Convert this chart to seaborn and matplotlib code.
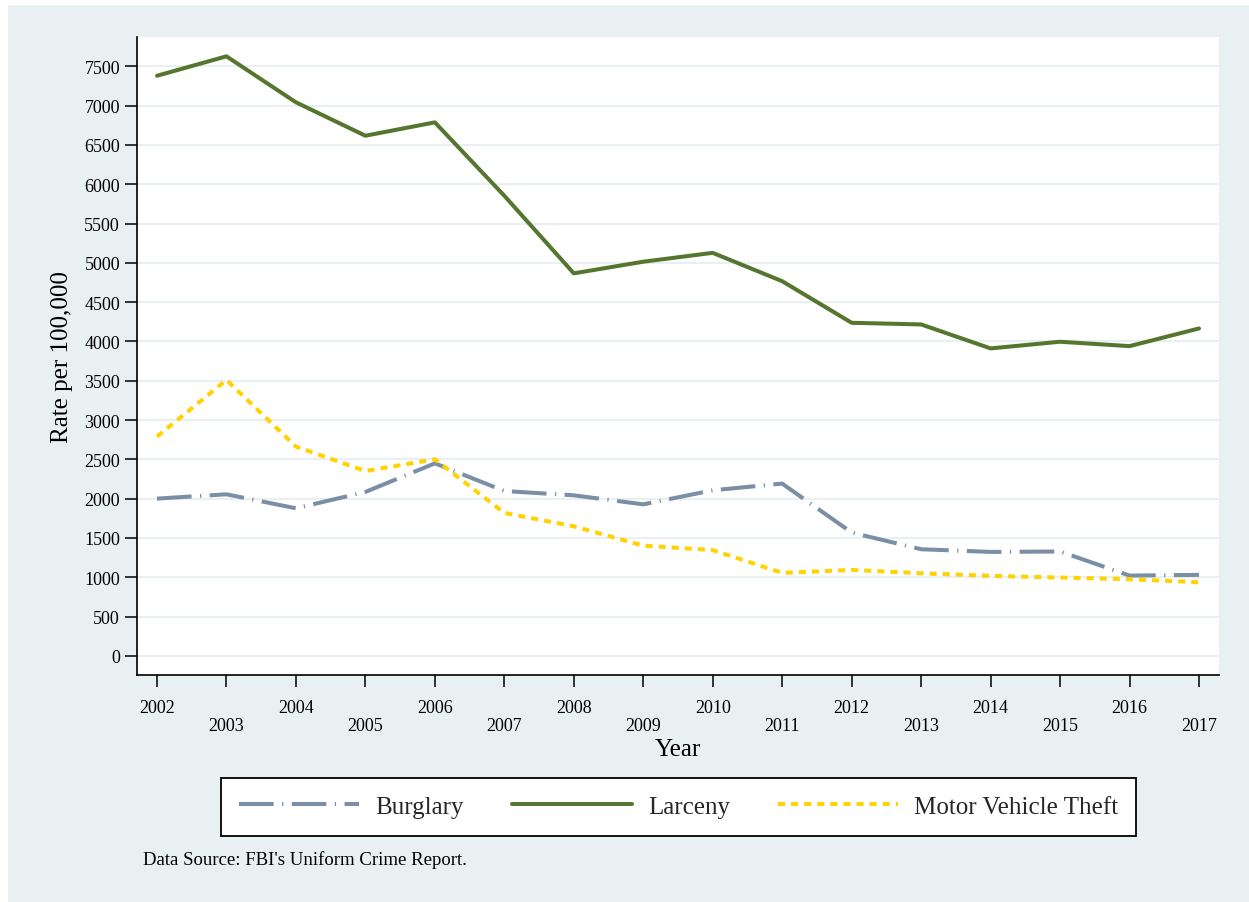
import matplotlib
matplotlib.use("Agg")
import matplotlib.pyplot as plt
from matplotlib.patches import Rectangle
import seaborn as sns
import numpy as np

# ---- data ----
years = [2002, 2003, 2004, 2005, 2006, 2007, 2008, 2009,
         2010, 2011, 2012, 2013, 2014, 2015, 2016, 2017]
burglary = [2000, 2055, 1877, 2085, 2449, 2097, 2042, 1927,
            2106, 2191, 1568, 1356, 1322, 1327, 1021, 1030]
larceny = [7380, 7627, 7042, 6617, 6787, 5853, 4866, 5014,
           5127, 4766, 4237, 4216, 3911, 3996, 3940, 4165]
mvt = [2789, 3510, 2662, 2351, 2500, 1818, 1648, 1402,
       1345, 1055, 1093, 1051, 1017, 996, 975, 936]
series_names = ["Burglary", "Larceny", "Motor Vehicle Theft"]
y_ticks = [0, 500, 1000, 1500, 2000, 2500, 3000, 3500,
           4000, 4500, 5000, 5500, 6000, 6500, 7000, 7500]
x_labels = [str(y) for y in years]
y_title = "Rate per 100,000"
x_title = "Year"
note = "Data Source: FBI's Uniform Crime Report."

# ---- style ----
sns.set_theme(style="white")
plt.rcParams["font.family"] = ["Liberation Serif", "DejaVu Serif"]
plt.rcParams["axes.unicode_minus"] = False

BG = "#e8f0f2"
GRID = "#e8f0f2"
colors = {"Burglary": "#7a8ea6", "Larceny": "#55762e",
          "Motor Vehicle Theft": "#ffd200"}
styles = {"Burglary": (0, (8.6, 2.1, 0.3, 2.1)),
          "Larceny": "-",
          "Motor Vehicle Theft": (0, (1.75, 1.5))}

W, H = 1249, 903
fig = plt.figure(figsize=(W / 100, H / 100), dpi=100)
fig.patch.set_facecolor("white")
fig.add_artist(Rectangle((8 / W, 0), 1, (H - 6) / H, transform=fig.transFigure,
                         facecolor=BG, edgecolor="none", zorder=-10))

ax = fig.add_axes([137 / W, (H - 676) / H, (1219 - 137) / W, (676 - 38) / H])
ax.set_facecolor("white")

for name, vals in zip(series_names, [burglary, larceny, mvt]):
    sns.lineplot(x=years, y=vals, ax=ax, color=colors[name], linewidth=2.9,
                 linestyle=styles[name], label=name, zorder=3)

ax.set_xlim(2001.712, 2017.288)
ax.set_ylim(-244, 7873)

# y axis
ax.set_yticks(y_ticks)
ax.set_yticklabels([str(t) for t in y_ticks])
ax.tick_params(axis="y", which="major", length=8.6, width=1.1, pad=3.6,
               labelsize=13, color="black", labelcolor="black", left=True)
ax.yaxis.grid(True, color=GRID, linewidth=1.5, zorder=0)
ax.xaxis.grid(False)
ax.set_axisbelow(True)

# x axis: alternating label rows
even_years = years[0::2]
odd_years = years[1::2]
ax.set_xticks(even_years)
ax.set_xticklabels(x_labels[0::2])
ax.set_xticks(odd_years, minor=True)
ax.set_xticklabels(x_labels[1::2], minor=True)
ax.tick_params(axis="x", which="major", length=8.6, width=1.1, pad=8.6,
               labelsize=13, color="black", labelcolor="black", bottom=True)
ax.tick_params(axis="x", which="minor", length=8.6, width=1.1, pad=21.6,
               labelsize=13, color="black", labelcolor="black", bottom=True)

for s in ["top", "right"]:
    ax.spines[s].set_visible(False)
for s in ["left", "bottom"]:
    ax.spines[s].set_visible(True)
    ax.spines[s].set_color("black")
    ax.spines[s].set_linewidth(1.2)

ax.set_ylabel(y_title, fontsize=18, labelpad=8, color="black")
ax.set_xlabel(x_title, fontsize=18, labelpad=3, color="black")

handles, labels = ax.get_legend_handles_labels()
leg = ax.legend(handles, labels, loc="center",
                bbox_to_anchor=((221 + 1136) / 2 / W, 1 - 807.5 / H),
                bbox_transform=fig.transFigure, ncol=3, fontsize=18,
                frameon=True, fancybox=False, edgecolor="black", framealpha=1,
                handlelength=4.8, handletextpad=0.65, columnspacing=1.93,
                borderpad=0.71, borderaxespad=0)
leg.get_frame().set_linewidth(1.3)
leg.get_frame().set_facecolor("white")

fig.text(143 / W, 1 - 860 / H, note, fontsize=13.5, ha="left", va="center",
         color="black")

fig.savefig("out.png", dpi=100, facecolor=fig.get_facecolor())
